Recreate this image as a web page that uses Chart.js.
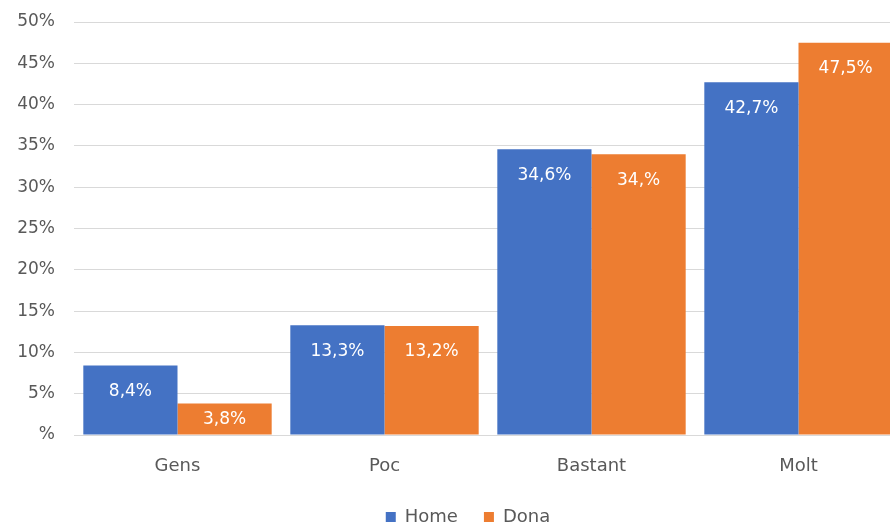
<!DOCTYPE html>
<html>
<head>
<meta charset="utf-8">
<script src="https://cdn.jsdelivr.net/npm/chart.js@4.4.1/dist/chart.umd.min.js"></script>
<style>
  html, body { margin: 0; padding: 0; background: #fff; overflow: hidden; }
  #wrap { width: 933px; height: 536px; position: relative; }
</style>
</head>
<body>
<div id="wrap"><canvas id="chart"></canvas></div>
<script>
  // data
  const categories = ["Gens", "Poc", "Bastant", "Molt"];
  const homeValues = [8.4, 13.3, 34.6, 42.7];
  const donaValues = [3.8, 13.2, 34.0, 47.5];
  const homeLabels = ["8,4%", "13,3%", "34,6%", "42,7%"];
  const donaLabels = ["3,8%", "13,2%", "34,%", "47,5%"];
  const yTicks = [0, 5, 10, 15, 20, 25, 30, 35, 40, 45, 50];

  const FONT = "'DejaVu Sans', 'Noto Sans', sans-serif";
  const GREY = "#595959";

  // white labels at the inside end of each bar
  const barLabels = {
    id: "barLabels",
    afterDatasetsDraw(chart) {
      const ctx = chart.ctx;
      const base = chart.scales.y.getPixelForValue(0);
      ctx.save();
      ctx.fillStyle = "#ffffff";
      ctx.font = "17px " + FONT;
      ctx.textAlign = "center";
      ctx.textBaseline = "middle";
      chart.data.datasets.forEach((ds, i) => {
        const meta = chart.getDatasetMeta(i);
        meta.data.forEach((bar, j) => {
          const top = bar.y;
          const y = Math.min(top + 26, (top + base) / 2);
          ctx.fillText(ds.valueLabels[j], bar.x, y);
        });
      });
      ctx.restore();
    }
  };

  // legend in the original sits a bit right of the canvas centre
  const legendShift = {
    id: "legendShift",
    afterLayout(chart) { chart.legend.left += 34; }
  };

  new Chart(document.getElementById("chart"), {
    type: "bar",
    data: {
      labels: categories,
      datasets: [
        { label: "Home", data: homeValues, valueLabels: homeLabels, backgroundColor: "#4472C4" },
        { label: "Dona", data: donaValues, valueLabels: donaLabels, backgroundColor: "#ED7D31" }
      ]
    },
    options: {
      responsive: true,
      maintainAspectRatio: false,
      animation: false,
      layout: { padding: { top: 22, right: 31, bottom: 0, left: 0 } },
      datasets: { bar: { barPercentage: 1, categoryPercentage: 0.91 } },
      plugins: {
        legend: {
          position: "bottom",
          labels: {
            boxWidth: 10, boxHeight: 10, padding: 26,
            color: GREY, font: { family: FONT, size: 18 }
          }
        },
        tooltip: { enabled: false }
      },
      scales: {
        x: {
          grid: { display: false, drawTicks: false },
          border: { display: false },
          ticks: { color: GREY, font: { family: FONT, size: 18 }, padding: 21 },
          afterFit(s) { s.height = 47; }
        },
        y: {
          min: 0, max: 50,
          afterBuildTicks(s) { s.ticks = yTicks.map(v => ({ value: v })); },
          grid: { color: "#d9d9d9", lineWidth: 1, drawTicks: false },
          border: { display: false },
          ticks: {
            color: GREY, font: { family: FONT, size: 17 }, padding: 19,
            callback: v => v === 0 ? "%" : v + "%"
          },
          afterFit(s) { s.width = 74; s.paddingTop = 0; s.paddingBottom = 0; }
        }
      }
    },
    plugins: [barLabels, legendShift]
  });
</script>
</body>
</html>
